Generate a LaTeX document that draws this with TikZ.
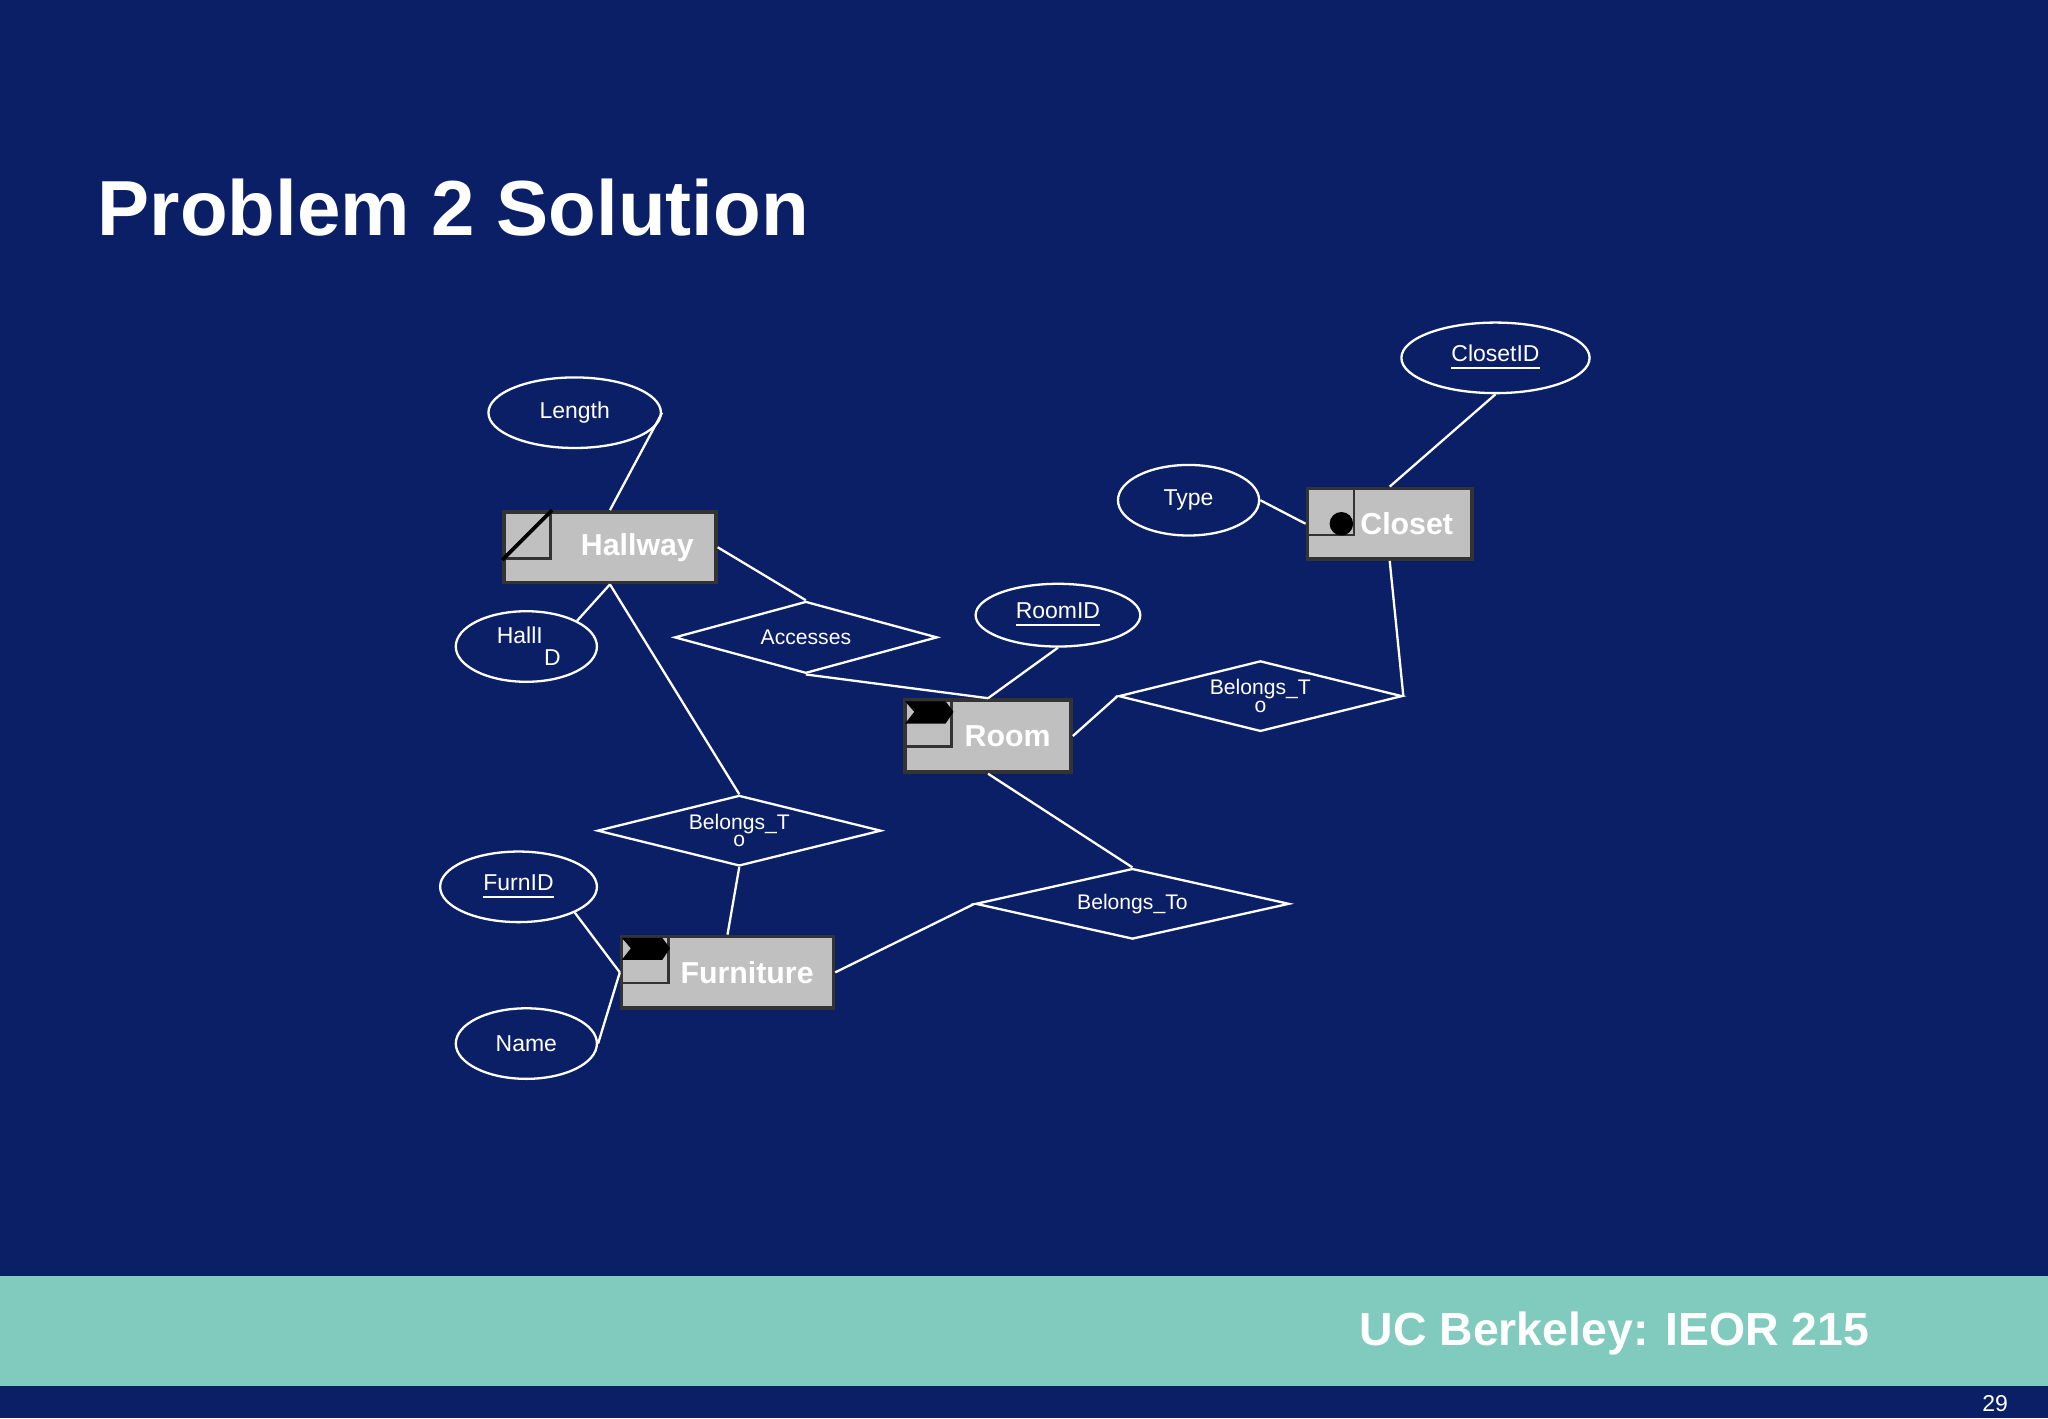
\documentclass[tikz,border=0pt]{standalone}
\usepackage{fontspec}
\setmainfont{Liberation Sans}
\usetikzlibrary{shapes.geometric}
\definecolor{navy}{HTML}{0B1F66}
\definecolor{teal}{HTML}{80CBBD}
\definecolor{ent}{HTML}{C0C0C0}
\tikzset{
 entity/.style={draw=black!80,fill=ent,line width=0.8pt,inner sep=0,text=white,font=\bfseries\fontsize{6.6}{8}\selectfont},
 attr/.style={ellipse,draw=white,line width=0.5pt,inner sep=0,text=white,font=\fontsize{5}{6}\selectfont},
 rel/.style={diamond,draw=white,line width=0.5pt,inner sep=0,aspect=3.7,text=white,font=\fontsize{4.6}{4.8}\selectfont,align=center},
 icon/.style={draw=black!80,line width=0.6pt,minimum width=0.36cm,minimum height=0.36cm,inner sep=0,anchor=north west},
 conn/.style={white,line width=0.5pt}
}
\begin{document}
\begin{tikzpicture}[x=0.01cm,y=-0.01cm]
\fill[navy] (0,0) rectangle (1568,1086);
\fill[teal] (0,977) rectangle (1568,1061);
\node[anchor=base west,text=white,font=\bfseries\fontsize{17}{20}\selectfont,inner sep=0] (title) at (74,180) {Problem 2 Solution};
\node[anchor=east,text=white,font=\bfseries\fontsize{10.1}{12}\selectfont,inner sep=0] (foot) at (1432,1021) {UC Berkeley: IEOR 215};
\node[anchor=east,text=white,font=\fontsize{5}{6}\selectfont,inner sep=0] (pg) at (1538,1075) {29};

% entities
\node[entity,minimum width=1.62cm,minimum height=0.54cm,text width=1.62cm,align=center] (hall) at (467,419) {\hspace*{0.42cm}Hallway};
\node[icon] (hi) at (hall.north west) {};
\draw[black,line width=0.8pt] (hi.south west) -- (hi.north east);
\node[entity,minimum width=1.26cm,minimum height=0.54cm,text width=1.26cm,align=center] (closet) at (1064,401) {\hspace*{0.26cm}Closet};
\node[icon] (ci) at (closet.north west) {};
\fill[black] (1027,401) circle (9);
\node[entity,minimum width=1.27cm,minimum height=0.55cm,text width=1.27cm,align=center] (room) at (756.5,563.5) {\hspace*{0.3cm}Room};
\node[icon] (ri) at (room.north west) {};
\fill[black] (693,537) -- (724,537) -- (730,545) -- (724,554) -- (693,554) -- (700,545) -- cycle;
\node[entity,minimum width=1.62cm,minimum height=0.55cm,text width=1.62cm,align=center] (furn) at (557,744.5) {\hspace*{0.3cm}Furniture};
\node[icon] (fi) at (furn.north west) {};
\fill[black] (476,718) -- (507,718) -- (513,726) -- (507,735) -- (476,735) -- (483,726) -- cycle;

% attributes
\node[attr,minimum width=1.32cm,minimum height=0.54cm] (len) at (440,316) {Length};
\node[attr,minimum width=1.08cm,minimum height=0.54cm,align=center,font=\fontsize{5}{4.8}\selectfont] (hid) at (403,495) {\hspace*{-0.1cm}HallI\\\hspace*{0.4cm}D};
\node[attr,minimum width=1.08cm,minimum height=0.54cm] (type) at (910,383) {Type};
\node[attr,minimum width=1.44cm,minimum height=0.54cm] (cid) at (1145,274) {\underline{ClosetID}};
\node[attr,minimum width=1.26cm,minimum height=0.48cm] (rid) at (810,471) {\underline{RoomID}};
\node[attr,minimum width=1.20cm,minimum height=0.54cm] (fid) at (397,679) {\underline{FurnID}};
\node[attr,minimum width=1.08cm,minimum height=0.54cm] (name) at (403,799) {Name};

% relationships
\node[rel,minimum width=2.01cm,minimum height=0.55cm] (acc) at (617,488) {Accesses};
\node[rel,minimum width=2.17cm,minimum height=0.54cm] (brc) at (965,533) {\raisebox{0pt}{Belongs\_T}\\[-1pt]o};
\node[rel,minimum width=2.17cm,minimum height=0.54cm] (bhf) at (566,636) {Belongs\_T\\[-1pt]o};
\node[rel,minimum width=2.40cm,minimum height=0.54cm] (brf) at (867,692) {Belongs\_To};

% connectors
\draw[conn] (len.east) -- (hall.north);
\draw[conn] (hid.north east) -- (hall.south);
\draw[conn] (hall.east) -- (acc.north);
\draw[conn] (acc.south) -- (room.north);
\draw[conn] (hall.south) -- (bhf.north);
\draw[conn] (bhf.south) -- (furn.north);
\draw[conn] (fid.south east) -- (furn.west);
\draw[conn] (name.east) -- (furn.west);
\draw[conn] (furn.east) -- (brf.west);
\draw[conn] (room.south) -- (brf.north);
\draw[conn] (rid.south) -- (room.north);
\draw[conn] (room.east) -- (brc.west);
\draw[conn] (brc.east) -- (closet.south);
\draw[conn] (type.east) -- (closet.west);
\draw[conn] (cid.south) -- (closet.north);
\end{tikzpicture}
\end{document}
